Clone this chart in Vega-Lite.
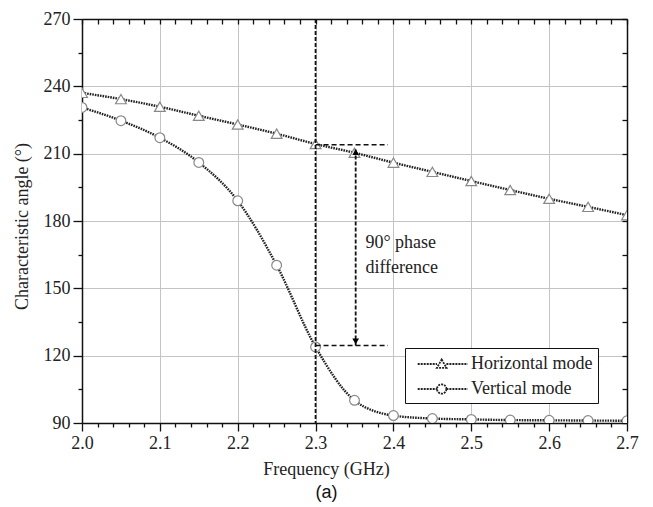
{
  "$schema": "https://vega.github.io/schema/vega-lite/v6.json",
  "autosize": {"type": "none"},
  "padding": {"left": 82, "top": 19, "right": 26, "bottom": 84},
  "width": 545,
  "height": 404,
  "background": "white",
  "title": {"text": "(a)", "orient": "bottom", "font": "Liberation Sans", "fontSize": 18, "fontWeight": "normal", "color": "#111", "offset": 6, "dx": -28},
  "datasets": {
    "series": [
      {"mode": "Horizontal mode", "freq": 2.0, "angle": 237.1},
      {"mode": "Horizontal mode", "freq": 2.05, "angle": 234.3},
      {"mode": "Horizontal mode", "freq": 2.1, "angle": 230.9},
      {"mode": "Horizontal mode", "freq": 2.15, "angle": 226.9},
      {"mode": "Horizontal mode", "freq": 2.2, "angle": 223.0},
      {"mode": "Horizontal mode", "freq": 2.25, "angle": 218.9},
      {"mode": "Horizontal mode", "freq": 2.3, "angle": 214.3},
      {"mode": "Horizontal mode", "freq": 2.35, "angle": 210.4},
      {"mode": "Horizontal mode", "freq": 2.4, "angle": 206.0},
      {"mode": "Horizontal mode", "freq": 2.45, "angle": 201.9},
      {"mode": "Horizontal mode", "freq": 2.5, "angle": 197.8},
      {"mode": "Horizontal mode", "freq": 2.55, "angle": 193.8},
      {"mode": "Horizontal mode", "freq": 2.6, "angle": 189.9},
      {"mode": "Horizontal mode", "freq": 2.65, "angle": 186.3},
      {"mode": "Horizontal mode", "freq": 2.7, "angle": 182.6},
      {"mode": "Vertical mode", "freq": 2.0, "angle": 230.6},
      {"mode": "Vertical mode", "freq": 2.05, "angle": 224.7},
      {"mode": "Vertical mode", "freq": 2.1, "angle": 217.1},
      {"mode": "Vertical mode", "freq": 2.15, "angle": 206.1},
      {"mode": "Vertical mode", "freq": 2.2, "angle": 189.0},
      {"mode": "Vertical mode", "freq": 2.25, "angle": 160.3},
      {"mode": "Vertical mode", "freq": 2.3, "angle": 123.9},
      {"mode": "Vertical mode", "freq": 2.35, "angle": 100.1},
      {"mode": "Vertical mode", "freq": 2.4, "angle": 93.3},
      {"mode": "Vertical mode", "freq": 2.45, "angle": 92.0},
      {"mode": "Vertical mode", "freq": 2.5, "angle": 91.6},
      {"mode": "Vertical mode", "freq": 2.55, "angle": 91.3},
      {"mode": "Vertical mode", "freq": 2.6, "angle": 91.2},
      {"mode": "Vertical mode", "freq": 2.65, "angle": 91.1},
      {"mode": "Vertical mode", "freq": 2.7, "angle": 91.0}
    ],
    "vline": [{"freq": 2.3}],
    "hdash": [
      {"freq": 2.3, "freq2": 2.393, "angle": 214.0},
      {"freq": 2.3, "freq2": 2.393, "angle": 124.5}
    ],
    "arrow": [{"freq": 2.3515, "angle": 124.5, "angle2": 212.0}],
    "heads": [
      {"freq": 2.3515, "angle": 210.7, "dir": "up"},
      {"freq": 2.3515, "angle": 126.4, "dir": "down"}
    ],
    "notes": [
      {"freq": 2.364, "angle": 170.1, "text": "90° phase"},
      {"freq": 2.364, "angle": 159.0, "text": "difference"}
    ]
  },
  "layer": [
    {
      "layer": [
        {
          "data": {"name": "series"},
          "mark": {"type": "line", "interpolate": "monotone", "strokeWidth": 2.4, "strokeDash": [1.6, 1], "clip": true},
          "encoding": {
            "x": {
              "field": "freq", "type": "quantitative",
              "scale": {"domain": [2.0, 2.7], "nice": false, "zero": false},
              "axis": {
                "title": "Frequency (GHz)",
                "titleX": 244,
                "tickCount": 100,
                "values": [2,2.02,2.04,2.06,2.08,2.1,2.12,2.14,2.16,2.18,2.2,2.22,2.24,2.26,2.28,2.3,2.32,2.34,2.36,2.38,2.4,2.42,2.44,2.46,2.48,2.5,2.52,2.54,2.56,2.58,2.6,2.62,2.64,2.66,2.68,2.7],
                "labelExpr": "slice(format(datum.value, '.2f'), -1) === '0' ? format(datum.value, '.1f') : ''",
                "labelOverlap": false,
                "labelFlush": false,
                "labelPadding": 3,
                "titlePadding": 8,
                "tickSize": {"condition": {"test": "slice(format(datum.value, '.2f'), -1) === '0'", "value": 8}, "value": 4},
                "gridOpacity": {"condition": {"test": "slice(format(datum.value, '.2f'), -1) === '0'", "value": 1}, "value": 0}
              }
            },
            "y": {
              "field": "angle", "type": "quantitative",
              "scale": {"domain": [90, 270], "nice": false, "zero": false},
              "axis": {
                "title": "Characteristic angle (°)",
                "titleY": 207,
                "tickCount": 100,
                "values": [90,105,120,135,150,165,180,195,210,225,240,255,270],
                "labelExpr": "datum.value % 30 === 0 ? format(datum.value, 'd') : ''",
                "labelOverlap": false,
                "labelFlush": false,
                "labelPadding": 3,
                "titlePadding": 12,
                "tickSize": {"condition": {"test": "datum.value % 30 === 0", "value": 9}, "value": 4},
                "gridOpacity": {"condition": {"test": "datum.value % 30 === 0", "value": 1}, "value": 0}
              }
            },
            "color": {
              "field": "mode", "type": "nominal",
              "scale": {"range": ["#222222", "#222222"]},
              "legend": {
                "orient": "none",
                "legendX": 323,
                "legendY": 329,
                "title": null,
                "fillColor": "white",
                "strokeColor": "#111",
                "padding": 5,
                "labelFont": "Liberation Serif",
                "labelFontSize": 18,
                "labelColor": "#222",
                "labelOffset": 39,
                "rowPadding": 5,
                "symbolSize": 400,
                "encode": {
                  "symbols": {
                    "update": {
                      "shape": {"signal": "datum.value === 'Horizontal mode' ? 'M-0.33,0H1.6M2.54,0H4.67M2.07,-0.45L2.55,0.38L1.59,0.38Z' : 'M-0.33,0H1.6M2.54,0H4.67M2.54,0A0.47,0.47 0 1,1 1.6,0A0.47,0.47 0 1,1 2.54,0'"},
                      "fill": {"value": "white"},
                      "stroke": {"value": "#333"},
                      "strokeWidth": {"value": 1.8},
                      "strokeDash": {"value": [2, 1]}
                    }
                  }
                }
              }
            }
          }
        },
        {
          "data": {"name": "series"},
          "mark": {"type": "point", "filled": false, "fill": "white", "stroke": "#888", "strokeWidth": 1.2, "opacity": 1, "fillOpacity": 1, "clip": true},
          "encoding": {
            "x": {"field": "freq", "type": "quantitative"},
            "y": {"field": "angle", "type": "quantitative"},
            "shape": {"field": "mode", "type": "nominal", "scale": {"range": ["triangle-up", "circle"]}, "legend": null},
            "size": {"field": "mode", "type": "nominal", "scale": {"range": [115, 95]}, "legend": null}
          }
        },
        {
          "data": {"name": "vline"},
          "mark": {"type": "rule", "strokeDash": [4, 2], "strokeWidth": 1.8, "color": "#111"},
          "encoding": {"x": {"field": "freq", "type": "quantitative"}}
        },
        {
          "data": {"name": "hdash"},
          "mark": {"type": "rule", "strokeDash": [5, 3], "strokeWidth": 1.6, "color": "#111"},
          "encoding": {
            "x": {"field": "freq", "type": "quantitative"},
            "x2": {"field": "freq2"},
            "y": {"field": "angle", "type": "quantitative"}
          }
        },
        {
          "data": {"name": "arrow"},
          "mark": {"type": "rule", "strokeDash": [4, 2], "strokeWidth": 1.8, "color": "#111"},
          "encoding": {
            "x": {"field": "freq", "type": "quantitative"},
            "y": {"field": "angle", "type": "quantitative"},
            "y2": {"field": "angle2"}
          }
        },
        {
          "data": {"name": "heads"},
          "transform": [{"filter": "datum.dir === 'up'"}],
          "mark": {"type": "point", "shape": "triangle-up", "filled": true, "color": "#000", "size": 45, "opacity": 1},
          "encoding": {
            "x": {"field": "freq", "type": "quantitative"},
            "y": {"field": "angle", "type": "quantitative"}
          }
        },
        {
          "data": {"name": "heads"},
          "transform": [{"filter": "datum.dir === 'down'"}],
          "mark": {"type": "point", "shape": "triangle-down", "filled": true, "color": "#000", "size": 45, "opacity": 1},
          "encoding": {
            "x": {"field": "freq", "type": "quantitative"},
            "y": {"field": "angle", "type": "quantitative"}
          }
        },
        {
          "data": {"name": "notes"},
          "mark": {"type": "text", "align": "left", "baseline": "middle", "font": "Liberation Serif", "fontSize": 18, "color": "#222"},
          "encoding": {
            "x": {"field": "freq", "type": "quantitative"},
            "y": {"field": "angle", "type": "quantitative"},
            "text": {"field": "text"}
          }
        }
      ]
    },
    {
      "data": {"name": "series"},
      "mark": {"type": "point", "opacity": 0},
      "encoding": {
        "x": {
          "field": "freq", "type": "quantitative",
          "axis": {"orient": "top", "title": null, "labels": false, "grid": false, "tickSize": -5, "tickCount": 100,
            "values": [2,2.02,2.04,2.06,2.08,2.1,2.12,2.14,2.16,2.18,2.2,2.22,2.24,2.26,2.28,2.3,2.32,2.34,2.36,2.38,2.4,2.42,2.44,2.46,2.48,2.5,2.52,2.54,2.56,2.58,2.6,2.62,2.64,2.66,2.68,2.7]}
        },
        "y": {
          "field": "angle", "type": "quantitative",
          "axis": {"orient": "right", "title": null, "labels": false, "grid": false, "tickSize": -5, "tickCount": 100,
            "values": [90,105,120,135,150,165,180,195,210,225,240,255,270]}
        }
      }
    }
  ],
  "resolve": {"axis": {"x": "independent", "y": "independent"}},
  "config": {
    "view": {"stroke": null},
    "axis": {
      "domainColor": "#111",
      "domainWidth": 1.5,
      "tickColor": "#111",
      "tickWidth": 1.3,
      "gridColor": "#c4c4c4",
      "gridWidth": 1,
      "labelFont": "Liberation Serif",
      "labelFontSize": 18,
      "labelColor": "#222",
      "titleFont": "Liberation Serif",
      "titleFontSize": 18,
      "titleFontWeight": "normal",
      "titleColor": "#222"
    }
  }
}
